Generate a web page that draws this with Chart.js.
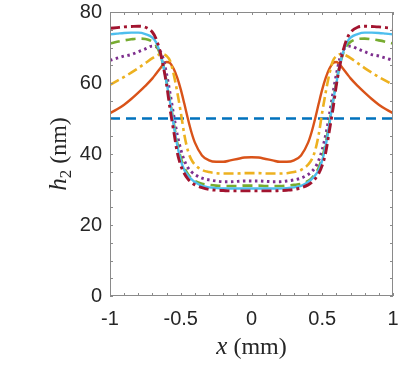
<!DOCTYPE html>
<html>
<head>
<meta charset="utf-8">
<script src="https://cdn.jsdelivr.net/npm/chart.js@4"></script>
<style>
  html, body { margin: 0; padding: 0; background: #fff; }
  canvas { display: block; }
</style>
</head>
<body>
<canvas id="myChart" width="407" height="370"></canvas>
<script>
// x positions (mm), shared by the curved series
const xVals = [-1, -0.95, -0.9, -0.85, -0.8, -0.75, -0.7, -0.675, -0.65, -0.625, -0.6, -0.575, -0.55, -0.525, -0.5, -0.475, -0.45, -0.425, -0.4, -0.35, -0.3, -0.25, -0.2, -0.15, -0.1, -0.05, 0,
  0.05, 0.1, 0.15, 0.2, 0.25, 0.3, 0.35, 0.4, 0.425, 0.45, 0.475, 0.5, 0.525, 0.55, 0.575, 0.6, 0.625, 0.65, 0.675, 0.7, 0.75, 0.8, 0.85, 0.9, 0.95, 1];

// flat initial profile
const flatX = [-1, 1];
const flatH = [50, 50];

const orangeH = [51.5, 52.6, 53.9, 55.5, 57.3, 59.2, 61.3, 62.6, 63.9, 65.1, 65.9, 65.6, 64.0, 61.5, 58.2, 54.2, 50.0, 46.2, 43.2, 39.6, 38.2, 37.8, 37.8, 38.2, 38.6, 39.0, 39.1,
  39.0, 38.6, 38.2, 37.8, 37.8, 38.2, 39.6, 43.2, 46.2, 50.0, 54.2, 58.2, 61.5, 64.0, 65.6, 65.9, 65.1, 63.9, 62.6, 61.3, 59.2, 57.3, 55.5, 53.9, 52.6, 51.5];
const yellowH = [59.5, 60.6, 61.7, 62.9, 64.2, 65.6, 67.0, 67.6, 68.0, 68.1, 67.6, 66.2, 62.5, 57.5, 51.8, 45.5, 41.0, 38.4, 37.0, 35.5, 34.9, 34.6, 34.5, 34.5, 34.5, 34.6, 34.6,
  34.6, 34.5, 34.5, 34.5, 34.6, 34.9, 35.5, 37.0, 38.4, 41.0, 45.5, 51.8, 57.5, 62.5, 66.2, 67.6, 68.1, 68.0, 67.6, 67.0, 65.6, 64.2, 62.9, 61.7, 60.6, 59.5];
const purpleH = [66.4, 67.0, 67.6, 68.0, 68.8, 69.6, 70.4, 70.2, 69.3, 67.0, 62.5, 57.0, 51.0, 45.5, 41.3, 38.2, 36.2, 35.0, 34.2, 33.2, 32.7, 32.4, 32.2, 32.2, 32.3, 32.4, 32.4,
  32.4, 32.3, 32.2, 32.2, 32.4, 32.7, 33.2, 34.2, 35.0, 36.2, 38.2, 41.3, 45.5, 51.0, 57.0, 62.5, 67.0, 69.3, 70.2, 70.4, 69.6, 68.8, 68.0, 67.6, 67.0, 66.4];
const greenH = [71.1, 71.6, 72.0, 72.3, 72.5, 72.4, 71.6, 70.6, 68.6, 65.2, 60.3, 54.8, 48.8, 43.2, 39.0, 36.2, 34.4, 33.2, 32.4, 31.6, 31.3, 31.1, 31.0, 31.0, 31.0, 31.1, 31.1,
  31.1, 31.0, 31.0, 31.0, 31.1, 31.3, 31.6, 32.4, 33.2, 34.4, 36.2, 39.0, 43.2, 48.8, 54.8, 60.3, 65.2, 68.6, 70.6, 71.6, 72.4, 72.5, 72.3, 72.0, 71.6, 71.1];
const cyanH = [73.7, 73.9, 74.1, 74.2, 74.2, 73.8, 72.8, 71.5, 69.0, 65.3, 60.0, 54.5, 48.3, 42.5, 38.2, 35.5, 34.0, 32.9, 32.1, 31.0, 30.6, 30.4, 30.3, 30.3, 30.3, 30.3, 30.3,
  30.3, 30.3, 30.3, 30.3, 30.4, 30.6, 31.0, 32.1, 32.9, 34.0, 35.5, 38.2, 42.5, 48.3, 54.5, 60.0, 65.3, 69.0, 71.5, 72.8, 73.8, 74.2, 74.2, 74.1, 73.9, 73.7];
const redH = [75.4, 75.6, 75.8, 75.9, 76.0, 75.7, 74.3, 72.5, 69.5, 65.0, 59.5, 52.5, 46.5, 40.5, 36.8, 34.5, 33.0, 32.0, 31.3, 30.5, 30.0, 29.8, 29.7, 29.6, 29.6, 29.6, 29.6,
  29.6, 29.6, 29.6, 29.7, 29.8, 30.0, 30.5, 31.3, 32.0, 33.0, 34.5, 36.8, 40.5, 46.5, 52.5, 59.5, 65.0, 69.5, 72.5, 74.3, 75.7, 76.0, 75.9, 75.8, 75.6, 75.4];

const xMajor = [-1, -0.5, 0, 0.5, 1];
const yMajor = [0, 20, 40, 60, 80];

const pts = (xs, ys) => xs.map((x, i) => ({x: x, y: ys[i]}));

function line(data, color, dash, order, width) {
  return {
    data: data,
    borderColor: color,
    borderWidth: width || 2.3,
    borderDash: dash,
    pointRadius: 0,
    fill: false,
    cubicInterpolationMode: 'monotone',
    order: order
  };
}

// box, inward ticks and LaTeX-ish axis titles (MATLAB look)
const boxPlugin = {
  id: 'box',
  afterDraw(chart) {
    const {ctx, chartArea: a, scales} = chart;
    ctx.save();
    ctx.strokeStyle = '#8a8a8a';
    ctx.lineWidth = 1;
    ctx.strokeRect(a.left + 0.5, a.top + 0.5, a.right - a.left - 1, a.bottom - a.top - 1);
    ctx.beginPath();
    scales.x.ticks.forEach((t) => {
      const px = Math.round(scales.x.getPixelForValue(t.value)) + 0.5;
      ctx.moveTo(px, a.bottom); ctx.lineTo(px, a.bottom - 3);
      ctx.moveTo(px, a.top); ctx.lineTo(px, a.top + 3);
    });
    scales.y.ticks.forEach((t) => {
      const py = Math.round(scales.y.getPixelForValue(t.value)) + 0.5;
      ctx.moveTo(a.left, py); ctx.lineTo(a.left + 3, py);
      ctx.moveTo(a.right, py); ctx.lineTo(a.right - 3, py);
    });
    ctx.stroke();

    ctx.fillStyle = '#262626';
    ctx.textBaseline = 'alphabetic';
    const serif = '"Liberation Serif", serif';
    const drawParts = (parts, cx, cy) => {
      let w = 0;
      parts.forEach((p) => { ctx.font = p.font; w += ctx.measureText(p.t).width; });
      let xx = cx - w / 2;
      parts.forEach((p) => {
        ctx.font = p.font;
        ctx.fillText(p.t, xx, cy + (p.dy || 0));
        xx += ctx.measureText(p.t).width;
      });
    };
    // x title
    drawParts([
      {t: 'x', font: 'italic 25px ' + serif},
      {t: ' (mm)', font: '24px ' + serif}
    ], (a.left + a.right) / 2, 354);
    // y title
    ctx.translate(66, (a.top + a.bottom) / 2);
    ctx.rotate(-Math.PI / 2);
    drawParts([
      {t: 'h', font: 'italic 25px ' + serif},
      {t: '2', font: '17px ' + serif, dy: 5},
      {t: ' (nm)', font: '24px ' + serif}
    ], 0, 0);
    ctx.restore();
  }
};

const ctx = document.getElementById('myChart');

new Chart(ctx, {
  type: 'line',
  data: {
    datasets: [
      line(pts(flatX, flatH), '#0072BD', [10, 6], 6, 2.5),
      line(pts(xVals, orangeH), '#D95319', [], 5, 2.4),
      line(pts(xVals, yellowH), '#EDB120', [10, 4, 3, 4], 4, 2.6),
      line(pts(xVals, purpleH), '#7E2F8E', [2.5, 3.5], 3, 2.9),
      line(pts(xVals, greenH), '#77AC30', [10, 6], 2, 2.6),
      line(pts(xVals, cyanH), '#4DBEEE', [], 1, 2.4),
      line(pts(xVals, redH), '#A2142F', [10, 4, 3, 4], 0, 2.9)
    ]
  },
  options: {
    responsive: false,
    animation: false,
    devicePixelRatio: 1,
    layout: { padding: { left: 0, right: 14, top: 12, bottom: 0 } },
    plugins: { legend: { display: false }, tooltip: { enabled: false } },
    scales: {
      x: {
        type: 'linear',
        min: -1,
        max: 1,
        afterFit: (s) => { s.height = 74; s.paddingLeft = 0; s.paddingRight = 0; },
        grid: { drawOnChartArea: false, drawTicks: false },
        border: { display: false },
        ticks: {
          stepSize: 0.1,
          autoSkip: false,
          maxRotation: 0,
          padding: 11,
          color: '#262626',
          font: { family: '"Liberation Sans", Arial, sans-serif', size: 20 },
          callback: (v) => {
            const m = xMajor.find((t) => Math.abs(t - v) < 1e-6);
            return m === undefined ? '' : String(m);
          }
        }
      },
      y: {
        min: 0,
        max: 80,
        afterFit: (s) => { s.width = 110; s.paddingTop = 0; s.paddingBottom = 0; },
        grid: { drawOnChartArea: false, drawTicks: false },
        border: { display: false },
        ticks: {
          stepSize: 5,
          autoSkip: false,
          padding: 8,
          color: '#262626',
          font: { family: '"Liberation Sans", Arial, sans-serif', size: 20 },
          callback: (v) => yMajor.includes(v) ? String(v) : ''
        }
      }
    }
  },
  plugins: [boxPlugin]
});
</script>
</body>
</html>
